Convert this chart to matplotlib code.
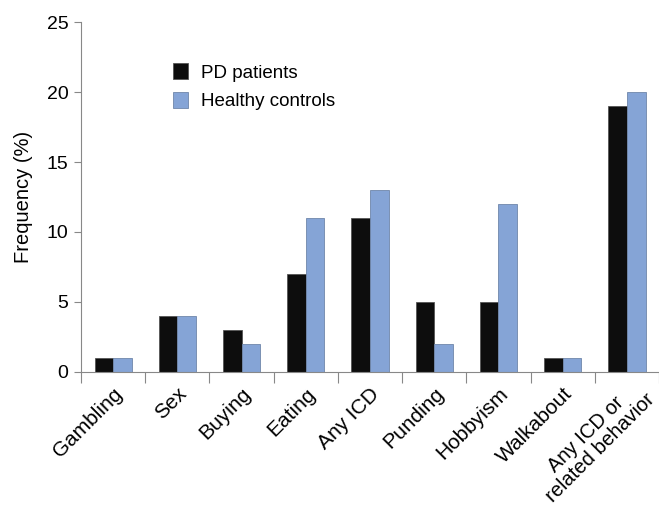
import numpy as np
import matplotlib.pyplot as plt

# categories and values
categories = ["Gambling", "Sex", "Buying", "Eating", "Any ICD", "Punding",
              "Hobbyism", "Walkabout", "Any ICD or\nrelated behavior"]
pd_patients = [1, 4, 3, 7, 11, 5, 5, 1, 19]
healthy_controls = [1, 4, 2, 11, 13, 2, 12, 1, 20]
yticks = [0, 5, 10, 15, 20, 25]

plt.rcParams['font.family'] = ['Liberation Sans', 'DejaVu Sans']

fig = plt.figure(figsize=(6.59, 5.15), dpi=100)
ax = fig.add_axes([0.123, 0.278, 0.877, 0.679])

x = np.arange(len(categories))
w = 0.29
ax.bar(x - w / 2, pd_patients, w, color="#0d0d0d", edgecolor="#555555",
       linewidth=0.6, label="PD patients")
ax.bar(x + w / 2, healthy_controls, w, color="#85a4d6", edgecolor="#6f86aa",
       linewidth=0.6, label="Healthy controls")

ax.set_xlim(-0.5, len(categories) - 0.5)
ax.set_ylim(0, 25)
ax.set_yticks(yticks)
ax.tick_params(axis='y', labelsize=14, color="#888888", length=5, pad=4)
ax.set_ylabel("Frequency (%)", fontsize=14.5, labelpad=10)

# ticks sit between categories, labels centred under groups
ax.set_xticks(np.arange(len(categories) + 1) - 0.5, minor=False)
ax.set_xticklabels([])
ax.set_xticks(x[:-1], minor=True)
ax.set_xticklabels(categories[:-1], minor=True, rotation=45, ha='right',
                   rotation_mode='anchor', fontsize=15)
ax.tick_params(axis='x', which='major', length=8, color="#888888")
ax.tick_params(axis='x', which='minor', length=0, pad=9)

# the two-line label is drawn separately so it can be nudged inside the figure
ax.annotate(categories[-1], xy=(x[-1], 0), xycoords='data',
            xytext=(3, -3), textcoords='offset points',
            rotation=45, rotation_mode='anchor', ha='right', va='top',
            multialignment='center', linespacing=1.05, fontsize=14.5,
            annotation_clip=False)

for s in ['top', 'right']:
    ax.spines[s].set_visible(False)
for s in ['left', 'bottom']:
    ax.spines[s].set_color("#888888")

ax.legend(loc='upper left', bbox_to_anchor=(0.13, 0.93), frameon=False,
          fontsize=13.5, handlelength=0.8, handleheight=0.9, labelspacing=0.55,
          handletextpad=0.7)

fig.savefig("out.png", dpi=100)
